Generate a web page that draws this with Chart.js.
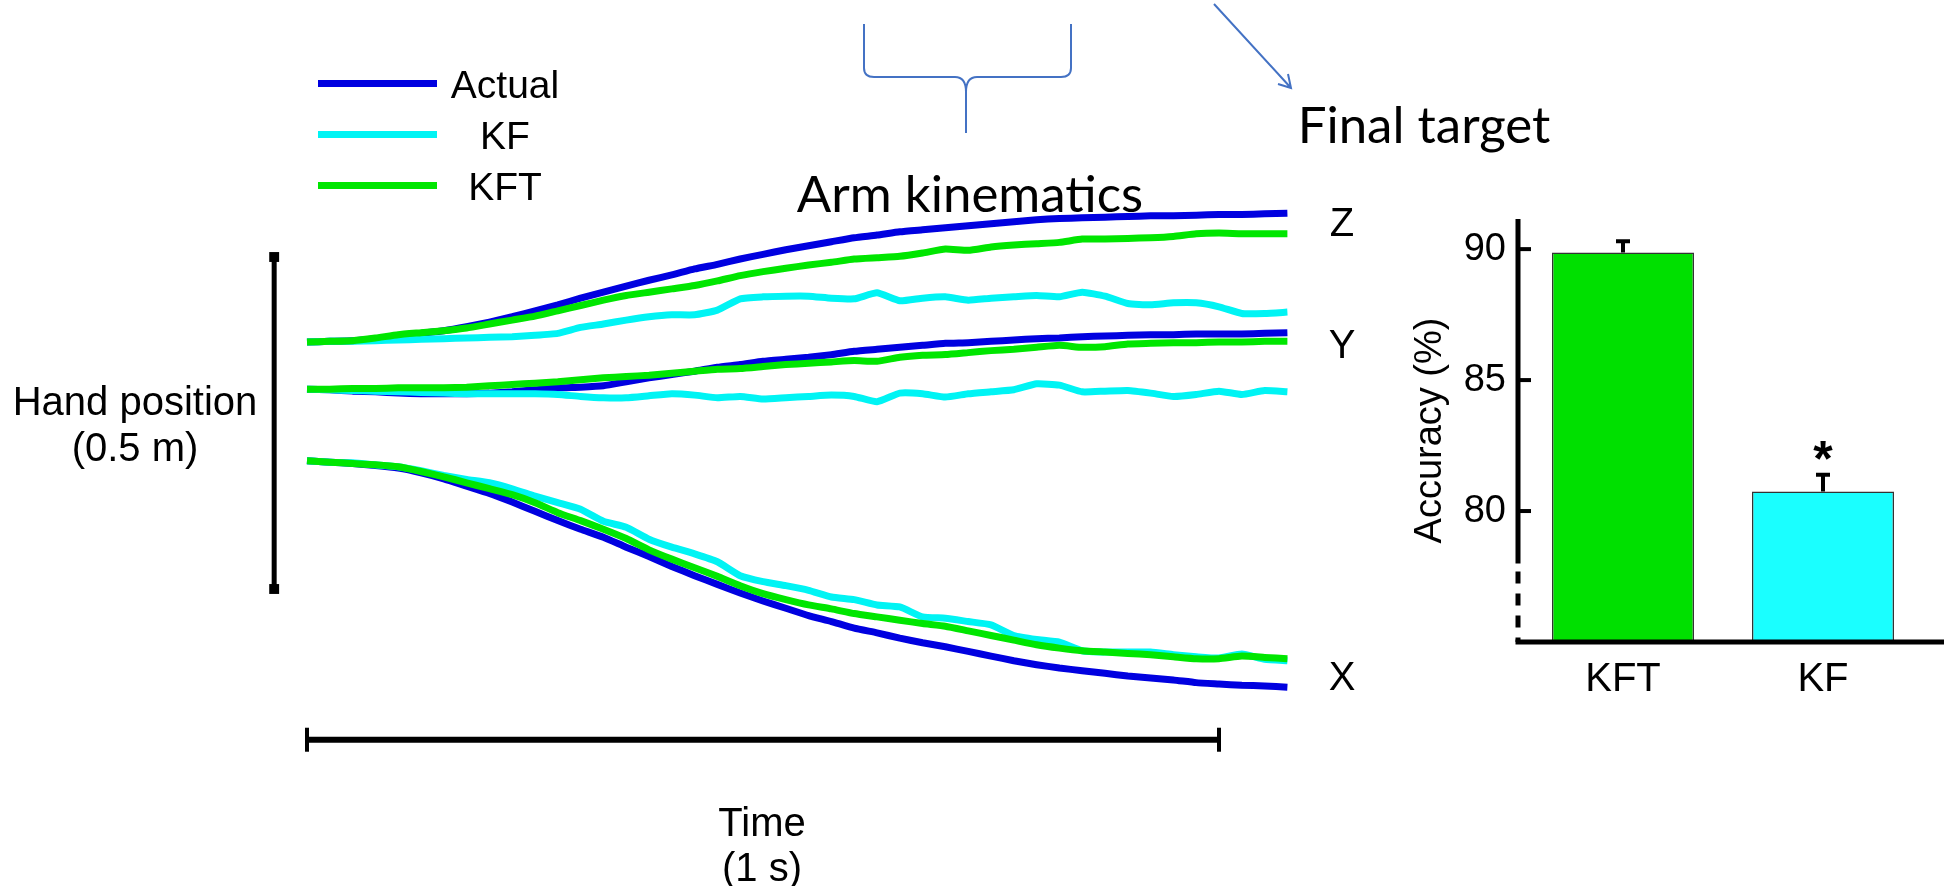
<!DOCTYPE html>
<html>
<head>
<meta charset="utf-8">
<title>Arm kinematics</title>
<script src="https://cdn.jsdelivr.net/npm/chart.js@4.4.1/dist/chart.umd.min.js"></script>
<style>
    html, body { margin: 0; padding: 0; background: #fff; }
    body {
        width: 1944px; height: 886px; position: relative; overflow: hidden;
        font-family: "Liberation Sans", Arial, sans-serif; color: #000;
    }
    canvas { position: absolute; top: 0; }
    #lineChart { left: 0; width: 1400px; height: 886px; }
    #barChart { left: 1300px; width: 644px; height: 886px; }
    #decor { position: absolute; left: 0; top: 0; pointer-events: none; }
    .lbl { position: absolute; transform: translate(-50%, -50%); white-space: nowrap; line-height: 1; }
    .big { font-family: Lato, "Open Sans", sans-serif; font-size: 51px; }
    .axisName { font-size: 40px; }
    .bar-lbl { font-size: 40px; }
    #legend { position: absolute; left: 318px; top: 58px; }
    .leg-row { position: relative; width: 240px; height: 51px; }
    .leg-line { position: absolute; left: 0; top: 22px; width: 119px; height: 7px; }
    .leg-text { position: absolute; left: 187px; top: 50%; transform: translate(-50%, -50%); font-size: 39px; line-height: 1; }
</style>
</head>
<body>

<canvas id="lineChart" width="1400" height="886"></canvas>
<canvas id="barChart" width="644" height="886"></canvas>

<svg id="decor" width="1944" height="886">
    <!-- brace over the traces -->
    <path d="M864,24 L864,68 Q864,77 874,77 L955,77 Q966,77 966,92 L966,133 M966,92 Q966,77 977,77 L1061,77 Q1071,77 1071,68 L1071,24"
          fill="none" stroke="#4472c4" stroke-width="2"/>
    <!-- arrow toward final target -->
    <path d="M1214,4 L1291,88 M1288,74 L1291,88 L1278,84" fill="none" stroke="#4472c4" stroke-width="2"/>
</svg>

<div id="legend"></div>

<div class="lbl big" style="left:970px; top:192px;">Arm kinematics</div>
<div class="lbl big" style="left:1424px; top:123px;">Final target</div>

<div class="lbl axisName" style="left:1342px; top:222px;">Z</div>
<div class="lbl axisName" style="left:1342px; top:344px;">Y</div>
<div class="lbl axisName" style="left:1342px; top:676px;">X</div>

<div class="lbl bar-lbl" style="left:135px; top:401px;">Hand position</div>
<div class="lbl bar-lbl" style="left:135px; top:447px;">(0.5 m)</div>
<div class="lbl bar-lbl" style="left:762px; top:822px;">Time</div>
<div class="lbl bar-lbl" style="left:762px; top:867px;">(1 s)</div>

<script>
/* -------- DATA -------- */
// time (s) of each sample
const time = [0, 0.025, 0.05, 0.075, 0.1, 0.125, 0.15, 0.175, 0.2, 0.225,
    0.25, 0.275, 0.3, 0.325, 0.35, 0.375, 0.4, 0.425, 0.45, 0.475,
    0.5, 0.525, 0.55, 0.575, 0.6, 0.625, 0.65, 0.675, 0.7, 0.725,
    0.75, 0.775, 0.8, 0.825, 0.85, 0.875, 0.9, 0.925, 0.95, 0.975,
    1.0, 1.025, 1.05, 1.075];

// hand position (m), traces stacked as in the figure
const actualZ = [0.372, 0.373, 0.374, 0.377, 0.381, 0.385, 0.389, 0.395, 0.402, 0.410,
    0.419, 0.428, 0.438, 0.447, 0.456, 0.465, 0.473, 0.482, 0.489, 0.497,
    0.504, 0.511, 0.517, 0.523, 0.529, 0.533, 0.538, 0.541, 0.544, 0.547,
    0.550, 0.553, 0.556, 0.558, 0.559, 0.560, 0.561, 0.562, 0.562, 0.563,
    0.564, 0.564, 0.565, 0.566];
const kftZ = [0.372, 0.373, 0.374, 0.378, 0.383, 0.386, 0.389, 0.393, 0.399, 0.405,
    0.411, 0.419, 0.427, 0.435, 0.442, 0.447, 0.452, 0.457, 0.464, 0.472,
    0.478, 0.483, 0.488, 0.492, 0.497, 0.499, 0.501, 0.506, 0.512, 0.510,
    0.515, 0.518, 0.520, 0.522, 0.527, 0.527, 0.528, 0.529, 0.531, 0.535,
    0.536, 0.535, 0.535, 0.535];
const kfZ = [0.372, 0.373, 0.373, 0.374, 0.375, 0.376, 0.377, 0.378, 0.379, 0.380,
    0.382, 0.385, 0.394, 0.399, 0.405, 0.410, 0.413, 0.413, 0.420, 0.437,
    0.440, 0.441, 0.441, 0.438, 0.437, 0.446, 0.434, 0.438, 0.440, 0.435,
    0.438, 0.440, 0.442, 0.440, 0.447, 0.441, 0.430, 0.428, 0.431, 0.431,
    0.425, 0.415, 0.415, 0.417];

const actualY = [0.301, 0.300, 0.298, 0.297, 0.295, 0.294, 0.294, 0.294, 0.295, 0.297,
    0.300, 0.303, 0.304, 0.306, 0.312, 0.318, 0.323, 0.328, 0.334, 0.338,
    0.343, 0.346, 0.349, 0.353, 0.358, 0.361, 0.364, 0.367, 0.370, 0.371,
    0.373, 0.375, 0.377, 0.378, 0.380, 0.381, 0.382, 0.383, 0.383, 0.384,
    0.384, 0.384, 0.385, 0.386];
const kftY = [0.301, 0.301, 0.302, 0.302, 0.303, 0.303, 0.303, 0.304, 0.306, 0.308,
    0.310, 0.312, 0.315, 0.318, 0.320, 0.322, 0.325, 0.328, 0.331, 0.332,
    0.335, 0.338, 0.340, 0.342, 0.344, 0.343, 0.349, 0.352, 0.353, 0.356,
    0.359, 0.361, 0.364, 0.367, 0.364, 0.365, 0.369, 0.370, 0.371, 0.371,
    0.372, 0.372, 0.373, 0.373];
const kfY = [0.301, 0.300, 0.299, 0.298, 0.297, 0.296, 0.295, 0.294, 0.294, 0.294,
    0.294, 0.293, 0.290, 0.288, 0.288, 0.291, 0.294, 0.292, 0.288, 0.290,
    0.286, 0.288, 0.290, 0.292, 0.290, 0.282, 0.295, 0.294, 0.289, 0.294,
    0.297, 0.300, 0.309, 0.307, 0.297, 0.298, 0.299, 0.295, 0.290, 0.293,
    0.298, 0.293, 0.299, 0.297];

const actualX = [0.193, 0.191, 0.189, 0.186, 0.182, 0.175, 0.166, 0.155, 0.144, 0.131,
    0.117, 0.103, 0.090, 0.078, 0.063, 0.049, 0.034, 0.020, 0.007, -0.006,
    -0.018, -0.029, -0.040, -0.049, -0.059, -0.066, -0.074, -0.081, -0.087, -0.094,
    -0.101, -0.108, -0.114, -0.119, -0.123, -0.127, -0.131, -0.134, -0.137, -0.141,
    -0.143, -0.145, -0.146, -0.148];
const kftX = [0.193, 0.191, 0.189, 0.187, 0.184, 0.177, 0.169, 0.160, 0.151, 0.142,
    0.130, 0.115, 0.103, 0.090, 0.076, 0.059, 0.045, 0.032, 0.019, 0.005,
    -0.007, -0.016, -0.024, -0.030, -0.037, -0.042, -0.047, -0.052, -0.056, -0.063,
    -0.070, -0.077, -0.084, -0.089, -0.093, -0.095, -0.097, -0.099, -0.102, -0.105,
    -0.105, -0.101, -0.103, -0.105];
const kfX = [0.193, 0.191, 0.190, 0.187, 0.184, 0.178, 0.171, 0.165, 0.160, 0.151,
    0.140, 0.130, 0.120, 0.102, 0.093, 0.075, 0.063, 0.053, 0.041, 0.020,
    0.011, 0.005, -0.002, -0.012, -0.016, -0.024, -0.027, -0.042, -0.044, -0.049,
    -0.054, -0.070, -0.076, -0.080, -0.093, -0.095, -0.095, -0.095, -0.099, -0.102,
    -0.104, -0.098, -0.106, -0.108];

const seriesNames = ['Actual', 'KF', 'KFT'];
const seriesColors = ['#0000e0', '#00f4f4', '#00e600'];

// scale bars: 1 s of time, 0.5 m of position
const timeBar = [0, 1];
const posBar = [0, 0.5];

// final target accuracy
const accLabels = ['KFT', 'KF'];
const accuracy = [89.87, 80.75];
const accError = [0.43, 0.64];
const accSig = ['', '*'];
const accColors = ['#00e000', '#1affff'];
const accTicks = [80, 85, 90];

Chart.defaults.font.family = '"Liberation Sans", Arial, sans-serif';
Chart.defaults.color = '#000';

/* -------- LEGEND -------- */
const legend = document.getElementById('legend');
seriesNames.forEach((name, i) => {
    legend.innerHTML += `
        <div class="leg-row">
            <div class="leg-line" style="background:${seriesColors[i]}"></div>
            <div class="leg-text">${name}</div>
        </div>`;
});

/* -------- TRAJECTORIES -------- */
function pts(ys) {
    return time.map((t, i) => ({ x: t, y: ys[i] }));
}

const traces = [
    [actualX, actualY, actualZ],
    [kfX, kfY, kfZ],
    [kftX, kftY, kftZ]
];
const drawOrder = [2, 1, 0];   // KFT on top

const lineSets = [];
traces.forEach((axes, s) => {
    axes.forEach(ys => {
        lineSets.push({
            label: seriesNames[s],
            data: pts(ys),
            borderColor: seriesColors[s],
            borderWidth: 7,
            pointRadius: 0,
            tension: 0.15,
            borderJoinStyle: 'round',
            order: drawOrder[s]
        });
    });
});

// scale bars
lineSets.push({
    label: 'time bar',
    data: timeBar.map(t => ({ x: t, y: -0.227 })),
    borderColor: '#000',
    borderWidth: 6,
    pointStyle: 'line',
    pointRotation: 90,
    pointRadius: 12,
    pointBorderWidth: 4,
    pointBorderColor: '#000',
    order: -1
});
lineSets.push({
    label: 'position bar',
    data: posBar.map(p => ({ x: -0.036, y: p })),
    borderColor: '#000',
    borderWidth: 5,
    pointStyle: 'rect',
    pointRadius: 7,
    pointBorderWidth: 0,
    pointBackgroundColor: '#000',
    order: -1
});

new Chart(document.getElementById('lineChart'), {
    type: 'line',
    data: { datasets: lineSets },
    options: {
        responsive: false,
        animation: false,
        events: [],
        layout: { padding: 0, autoPadding: false },
        plugins: { legend: { display: false }, tooltip: { enabled: false } },
        scales: {
            x: { type: 'linear', display: false, min: -307 / 912, max: (1400 - 307) / 912 },
            y: { type: 'linear', display: false, min: (589 - 886) / 664, max: 589 / 664 }
        }
    }
});

/* -------- ACCURACY BARS -------- */
const axisBreak = 78;

const accAxes = {
    id: 'accAxes',
    afterDatasetsDraw(chart) {
        const { ctx, chartArea: a } = chart;
        const y = chart.scales.y;
        const ax = a.left - 5;
        ctx.save();
        ctx.strokeStyle = '#000';
        ctx.fillStyle = '#000';
        ctx.lineWidth = 5;

        ctx.beginPath();
        ctx.moveTo(ax, a.top);
        ctx.lineTo(ax, y.getPixelForValue(axisBreak));
        ctx.stroke();

        ctx.setLineDash([12, 10]);
        ctx.beginPath();
        ctx.moveTo(ax, y.getPixelForValue(axisBreak) + 8);
        ctx.lineTo(ax, a.bottom);
        ctx.stroke();
        ctx.setLineDash([]);

        ctx.beginPath();
        ctx.moveTo(ax - 2.5, a.bottom);
        ctx.lineTo(chart.width, a.bottom);
        ctx.stroke();

        ctx.lineWidth = 4;
        accTicks.forEach(v => {
            const py = y.getPixelForValue(v);
            ctx.beginPath();
            ctx.moveTo(ax, py);
            ctx.lineTo(ax + 13, py);
            ctx.stroke();
        });

        // error bars + significance star
        chart.getDatasetMeta(0).data.forEach((bar, i) => {
            const top = y.getPixelForValue(accuracy[i] + accError[i]);
            ctx.beginPath();
            ctx.moveTo(bar.x, bar.y);
            ctx.lineTo(bar.x, top);
            ctx.moveTo(bar.x - 7, top);
            ctx.lineTo(bar.x + 7, top);
            ctx.stroke();
            if (accSig[i]) {
                ctx.font = 'bold 50px "Liberation Sans", Arial, sans-serif';
                ctx.textAlign = 'center';
                ctx.textBaseline = 'middle';
                ctx.fillText(accSig[i], bar.x, top - 12);
            }
        });
        ctx.restore();
    }
};

new Chart(document.getElementById('barChart'), {
    type: 'bar',
    data: {
        labels: accLabels,
        datasets: [{
            data: accuracy,
            backgroundColor: accColors,
            borderColor: '#333',
            borderWidth: 1.5,
            barPercentage: 0.71,
            categoryPercentage: 1
        }]
    },
    options: {
        responsive: false,
        animation: false,
        events: [],
        layout: { padding: { top: 219, right: 21, left: 0, bottom: 0 } },
        plugins: { legend: { display: false }, tooltip: { enabled: false } },
        scales: {
            x: {
                grid: { display: false, drawTicks: false },
                border: { display: false },
                ticks: { font: { size: 40 }, padding: 14 },
                afterFit: s => { s.height = 244; }
            },
            y: {
                min: 75,
                max: 91.15,
                grid: { display: false, drawTicks: false },
                border: { display: false },
                ticks: { font: { size: 38 }, padding: 17 },
                afterBuildTicks: s => { s.ticks = accTicks.map(v => ({ value: v })); },
                afterFit: s => { s.width = 223; },
                title: {
                    display: true,
                    text: 'Accuracy (%)',
                    font: { size: 38 },
                    padding: { top: 108, bottom: 0 }
                }
            }
        }
    },
    plugins: [accAxes]
});
</script>
</body>
</html>
